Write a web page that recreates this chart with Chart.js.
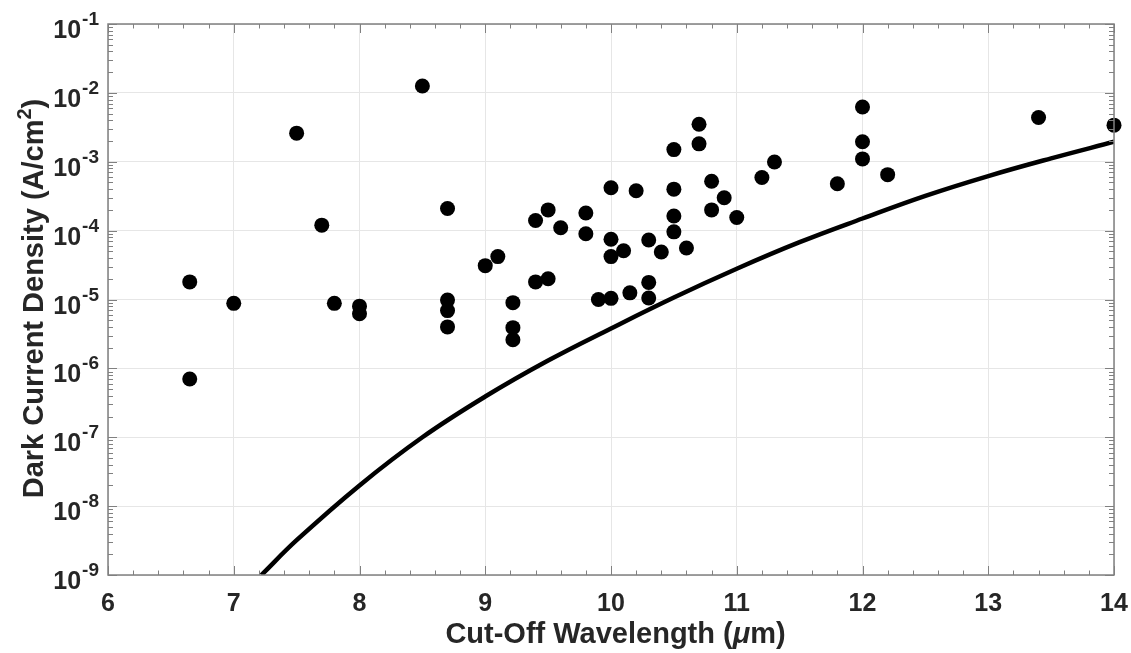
<!DOCTYPE html>
<html>
<head>
<meta charset="utf-8">
<script src="https://cdn.jsdelivr.net/npm/chart.js@4.4.1/dist/chart.umd.min.js"></script>
<style>
  html, body { margin: 0; padding: 0; background: #fff; }
  #wrap { width: 1131px; height: 653px; }
</style>
</head>
<body>
<div id="wrap"><canvas id="chart" width="1131" height="653"></canvas></div>
<script>
// DATOS
const xTicks = [6, 7, 8, 9, 10, 11, 12, 13, 14];
const yExponents = [-9, -8, -7, -6, -5, -4, -3, -2, -1];

// puntos medidos
const measuredWavelength = [
  6.65, 6.65, 7.0, 7.5, 7.7, 7.8, 8.0, 8.0, 8.5,
  8.7, 8.7, 8.7, 8.7, 9.0, 9.1, 9.22, 9.22, 9.22,
  9.4, 9.4, 9.5, 9.5, 9.6, 9.8, 9.8, 9.9,
  10.0, 10.0, 10.0, 10.0, 10.1, 10.15, 10.2, 10.3, 10.3, 10.3,
  10.4, 10.5, 10.5, 10.5, 10.5, 10.6, 10.7, 10.7, 10.8, 10.8,
  10.9, 11.0, 11.2, 11.3, 11.8, 12.0, 12.0, 12.0, 12.2, 13.4, 14.0
];
const measuredDensity = [
  1.8e-5, 7e-7, 8.8e-6, 2.6e-3, 1.2e-4, 8.8e-6, 8.0e-6, 6.2e-6, 1.26e-2,
  2.1e-4, 9.8e-6, 6.9e-6, 4.0e-6, 3.1e-5, 4.2e-5, 9.0e-6, 3.9e-6, 2.6e-6,
  1.4e-4, 1.8e-5, 2.0e-4, 2.0e-5, 1.1e-4, 1.8e-4, 9.0e-5, 1.0e-5,
  1.04e-5, 4.2e-4, 7.5e-5, 4.2e-5, 5.1e-5, 1.25e-5, 3.8e-4, 7.3e-5, 1.77e-5, 1.05e-5,
  4.9e-5, 1.5e-3, 4.0e-4, 1.63e-4, 9.6e-5, 5.6e-5, 3.5e-3, 1.82e-3, 5.2e-4, 2.0e-4,
  3.0e-4, 1.55e-4, 5.9e-4, 9.9e-4, 4.8e-4, 6.25e-3, 1.95e-3, 1.1e-3, 6.5e-4, 4.4e-3, 3.4e-3
];

// curva de referencia
const ruleWavelength = [7.22, 7.5, 8, 8.5, 9, 9.5, 10, 10.5, 11, 11.5, 12, 12.5, 13, 13.5, 14];
const ruleDensity = [1e-9, 3.2e-9, 2.0e-8, 1.0e-7, 3.9e-7, 1.3e-6, 3.8e-6, 1.07e-5, 2.8e-5, 6.8e-5, 1.5e-4, 3.2e-4, 6.2e-4, 1.12e-3, 1.95e-3];

const FONT = '"Liberation Sans", Arial, Helvetica, sans-serif';
const textColor = "#262626";
const axisColor = "#808080";
const gridColor = "#e6e6e6";

// ejes, marcas y textos estilo MATLAB
const frame = {
  id: "frame",
  afterDatasetsDraw(chart) {
    const { ctx, chartArea: a, scales: { x, y } } = chart;
    ctx.save();

    ctx.strokeStyle = axisColor;
    ctx.lineWidth = 1.5;
    ctx.strokeRect(a.left, a.top, a.right - a.left, a.bottom - a.top);

    ctx.lineWidth = 1;
    ctx.beginPath();
    // marcas x (mayores cada 1, menores cada 0.2)
    for (let i = 0; i <= (xTicks.length - 1) * 5; i++) {
      const px = Math.round(x.getPixelForValue(xTicks[0] + i * 0.2)) + 0.5;
      const len = i % 5 === 0 ? 9 : 4.5;
      ctx.moveTo(px, a.bottom); ctx.lineTo(px, a.bottom - len);
      ctx.moveTo(px, a.top); ctx.lineTo(px, a.top + len);
    }
    // marcas y (log)
    yExponents.forEach((e, k) => {
      const py = Math.round(y.getPixelForValue(Math.pow(10, e))) + 0.5;
      ctx.moveTo(a.left, py); ctx.lineTo(a.left + 9, py);
      ctx.moveTo(a.right, py); ctx.lineTo(a.right - 9, py);
      if (k < yExponents.length - 1) {
        for (let m = 2; m <= 9; m++) {
          const pm = Math.round(y.getPixelForValue(m * Math.pow(10, e))) + 0.5;
          ctx.moveTo(a.left, pm); ctx.lineTo(a.left + 5, pm);
          ctx.moveTo(a.right, pm); ctx.lineTo(a.right - 5, pm);
        }
      }
    });
    ctx.stroke();

    ctx.fillStyle = textColor;

    // etiquetas x
    ctx.font = "bold 25px " + FONT;
    ctx.textAlign = "center";
    ctx.textBaseline = "alphabetic";
    xTicks.forEach(v => ctx.fillText(String(v), x.getPixelForValue(v), 611));

    // etiquetas y: 10^e
    ctx.textAlign = "left";
    yExponents.forEach(e => {
      const py = y.getPixelForValue(Math.pow(10, e));
      const base = "10", sup = String(e);
      ctx.font = "bold 25px " + FONT;
      const wb = ctx.measureText(base).width;
      ctx.font = "bold 19px " + FONT;
      const ws = ctx.measureText(sup).width;
      const right = 99;
      const x0 = right - ws - wb - 1;
      ctx.font = "bold 25px " + FONT;
      ctx.fillText(base, x0, py + 14);
      ctx.font = "bold 19px " + FONT;
      ctx.fillText(sup, x0 + wb + 1, py + 1);
    });

    // título x
    const tFont = "bold 29px " + FONT;
    const iFont = "italic bold 29px " + FONT;
    const parts = [["Cut-Off Wavelength (", tFont], ["\u03bc", iFont], ["m)", tFont]];
    let total = 0;
    parts.forEach(p => { ctx.font = p[1]; total += ctx.measureText(p[0]).width; });
    let cx = 615.5 - total / 2;
    parts.forEach(p => { ctx.font = p[1]; ctx.fillText(p[0], cx, 643); cx += ctx.measureText(p[0]).width; });

    // título y
    ctx.save();
    ctx.translate(43, 298.5);
    ctx.rotate(-Math.PI / 2);
    const supFont = "bold 20px " + FONT;
    const yParts = [["Dark Current Density (A/cm", tFont, 0], ["2", supFont, -12], [")", tFont, 0]];
    total = 0;
    yParts.forEach(p => { ctx.font = p[1]; total += ctx.measureText(p[0]).width; });
    cx = -total / 2;
    yParts.forEach(p => { ctx.font = p[1]; ctx.fillText(p[0], cx, p[2]); cx += ctx.measureText(p[0]).width; });
    ctx.restore();

    ctx.restore();
  }
};

const measuredPoints = measuredWavelength.map((w, i) => ({ x: w, y: measuredDensity[i] }));
const rulePoints = ruleWavelength.map((w, i) => ({ x: w, y: ruleDensity[i] }));

new Chart(document.getElementById("chart").getContext("2d"), {
  type: "scatter",
  data: {
    datasets: [
      {
        type: "line",
        data: rulePoints,
        borderColor: "#000",
        borderWidth: 4.5,
        pointRadius: 0,
        tension: 0.4,
        fill: false
      },
      {
        data: measuredPoints,
        backgroundColor: "#000",
        borderWidth: 0,
        pointRadius: 7.5,
        pointHoverRadius: 7.5,
        clip: false
      }
    ]
  },
  options: {
    responsive: false,
    animation: false,
    devicePixelRatio: 1,
    layout: { padding: { top: 24, right: 17, left: 0, bottom: 0 } },
    plugins: { legend: { display: false }, tooltip: { enabled: false } },
    events: [],
    scales: {
      x: {
        type: "linear",
        min: 6,
        max: 14,
        afterBuildTicks: s => { s.ticks = xTicks.map(v => ({ value: v })); },
        afterFit: s => { s.height = 78; },
        ticks: { display: false },
        grid: { color: gridColor, drawTicks: false },
        border: { display: false }
      },
      y: {
        type: "logarithmic",
        min: 1e-9,
        max: 1e-1,
        afterBuildTicks: s => { s.ticks = yExponents.map(e => ({ value: Math.pow(10, e) })); },
        afterFit: s => { s.width = 108; },
        ticks: { display: false },
        grid: { color: gridColor, drawTicks: false },
        border: { display: false }
      }
    }
  },
  plugins: [frame]
});
</script>
</body>
</html>
